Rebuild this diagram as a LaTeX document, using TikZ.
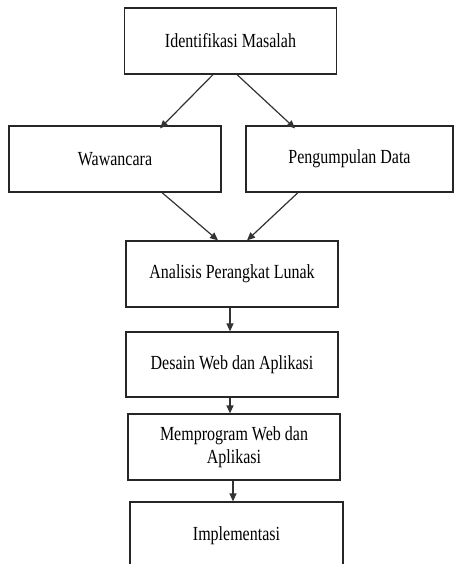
\documentclass[tikz,border=0pt]{standalone}
\usepackage{fontspec}
\setmainfont{Liberation Serif}[FakeStretch=0.8]
\usetikzlibrary{arrows.meta}
\begin{document}
\begin{tikzpicture}[x=1pt,y=-1pt,
  box/.style={draw=black!85, line width=1.2pt, rectangle, inner sep=0pt, align=center,
    font=\fontsize{20}{23}\selectfont, minimum width=212pt},
  arr/.style={draw=black!80, line width=1.2pt, -{Triangle[length=8pt,width=7pt]}}]
\useasboundingbox (0,0) rectangle (454,564);
\node[box, minimum height=66pt] (a) at (230.5,41) {Identifikasi Masalah};
\node[box, minimum height=66pt] (w) at (115,159) {Wawancara};
\node[box, minimum height=66pt, minimum width=207pt] (p) at (349.5,159) {Pengumpulan Data};
\node[box, minimum height=66pt] (al) at (232,274) {Analisis Perangkat Lunak};
\node[box, minimum height=65pt] (d) at (232,364.5) {Desain Web dan Aplikasi};
\node[box, minimum height=66pt] (m) at (234,447) {Memprogram Web dan\\Aplikasi};
\node[box, minimum height=68pt, minimum width=213pt] (im) at (236.5,536) {Implementasi};
\draw[arr] ([xshift=-17.5pt]a.south) -- ([xshift=45pt,yshift=-3pt]w.north);
\draw[arr] ([xshift=6.5pt]a.south) -- ([xshift=-54.5pt,yshift=-3pt]p.north);
\draw[arr] ([xshift=47pt]w.south) -- ([xshift=-14pt]al.north);
\draw[arr] ([xshift=-51.5pt]p.south) -- ([xshift=15pt]al.north);
\draw[arr] ([xshift=-2pt]al.south) -- ([xshift=-2pt]d.north);
\draw[arr] ([xshift=-2pt]d.south) -- ([xshift=-4pt]m.north);
\draw[arr] ([xshift=-1pt]m.south) -- ([xshift=-3.5pt]im.north);
\end{tikzpicture}
\end{document}
